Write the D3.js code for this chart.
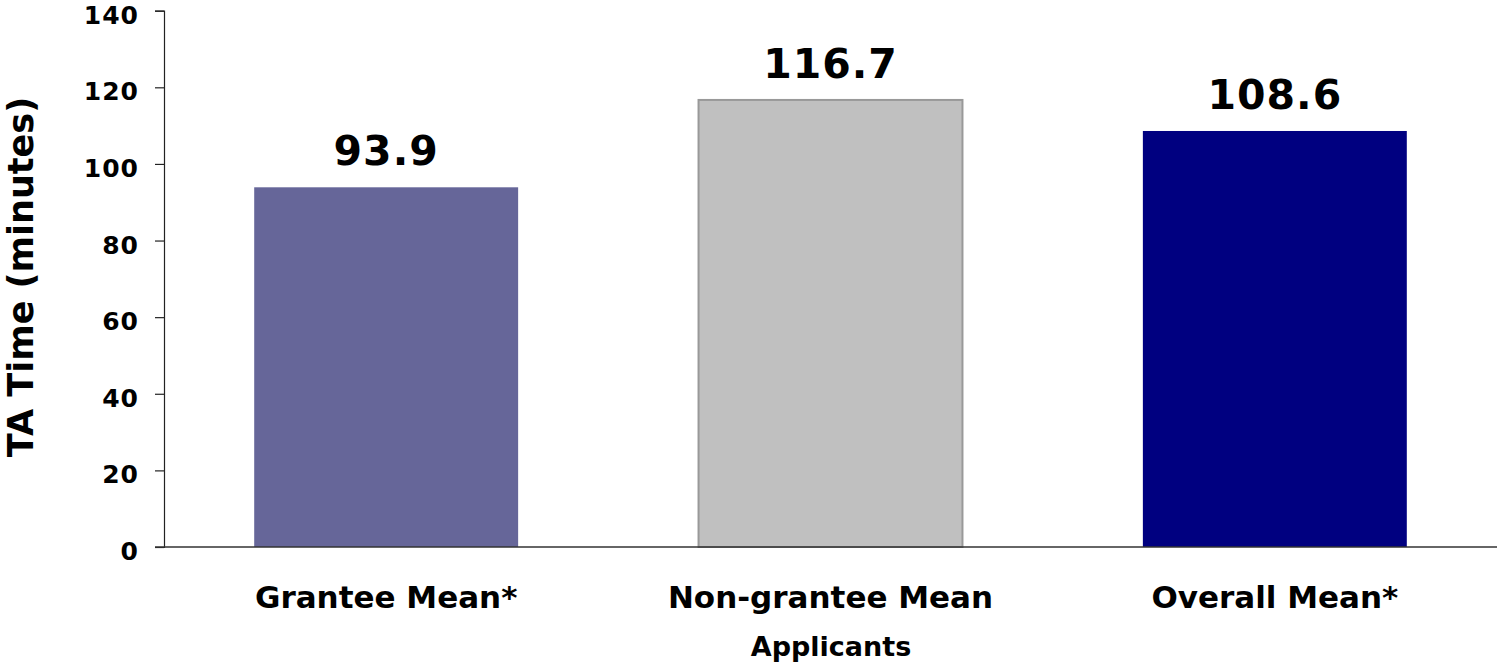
<!DOCTYPE html>
<html>
<head>
<meta charset="utf-8">
<script src="https://cdn.jsdelivr.net/npm/d3@7"></script>
<style>
  html, body { margin: 0; padding: 0; background: #fff; }
  svg { display: block; }
  text { font-family: "DejaVu Sans", Verdana, sans-serif; font-weight: bold; fill: #000; }
</style>
</head>
<body>
<svg id="chart" width="1497" height="666"></svg>
<script>
// Mean TA time per applicant group
const categories = ["Grantee Mean*", "Non-grantee Mean", "Overall Mean*"];
const values = [93.9, 116.7, 108.6];
const barColors = ["#666699", "#C0C0C0", "#000080"];
const barStrokes = ["none", "#999999", "none"];
const yTicks = [0, 20, 40, 60, 80, 100, 120, 140];
const yTitle = "TA Time (minutes)";
const xTitle = "Applicants";

const svg = d3.select("#chart");
const plotLeft = 164, plotRight = 1497, plotTop = 10.7, plotBottom = 547;

const x = d3.scaleBand()
  .domain(categories)
  .range([plotLeft, plotRight])
  .paddingInner(0.406)
  .paddingOuter(0.203);

const y = d3.scaleLinear()
  .domain([0, 140])
  .range([plotBottom, plotTop]);

// bars
svg.append("g")
  .selectAll("rect")
  .data(values)
  .join("rect")
  .attr("x", (d, i) => x(categories[i]))
  .attr("width", x.bandwidth())
  .attr("y", d => y(d))
  .attr("height", d => y(0) - y(d))
  .attr("fill", (d, i) => barColors[i])
  .attr("stroke", (d, i) => barStrokes[i])
  .attr("stroke-width", 2);

// value labels
svg.append("g")
  .selectAll("text")
  .data(values)
  .join("text")
  .attr("x", (d, i) => x(categories[i]) + x.bandwidth() / 2)
  .attr("y", d => y(d) - 22)
  .attr("text-anchor", "middle")
  .attr("font-size", 41)
  .attr("letter-spacing", 1)
  .text(d => d3.format(".1f")(d));

// y axis
const yAxis = svg.append("g")
  .attr("transform", `translate(${plotLeft},0)`)
  .call(d3.axisLeft(y).tickValues(yTicks).tickSize(9).tickPadding(16).tickFormat(d3.format("d")));
yAxis.select(".domain").attr("stroke", "#222").attr("stroke-width", 1.2);
yAxis.selectAll(".tick line").attr("stroke", "#222").attr("stroke-width", 1.2);
yAxis.selectAll(".tick text")
  .attr("font-family", "DejaVu Sans, Verdana, sans-serif")
  .attr("font-weight", "bold")
  .attr("font-size", 25)
  .attr("letter-spacing", 1)
  .attr("fill", "#000")
  .attr("dy", "0.5em");

// x axis baseline
const xAxis = svg.append("g")
  .attr("transform", `translate(0,${plotBottom})`)
  .call(d3.axisBottom(x).tickSize(0).tickPadding(61));
xAxis.select(".domain")
  .attr("d", `M${plotLeft - 9},0H${plotRight}`)
  .attr("stroke", "#333")
  .attr("stroke-width", 1.5);
xAxis.selectAll(".tick text")
  .attr("font-family", "DejaVu Sans, Verdana, sans-serif")
  .attr("font-weight", "bold")
  .attr("font-size", 31)
  .attr("fill", "#000")
  .attr("dy", "0");

// axis titles
svg.append("text")
  .attr("transform", `translate(33,277) rotate(-90)`)
  .attr("text-anchor", "middle")
  .attr("font-size", 35)
  .text(yTitle);

svg.append("text")
  .attr("x", 831)
  .attr("y", 656)
  .attr("text-anchor", "middle")
  .attr("font-size", 27)
  .text(xTitle);
</script>
</body>
</html>
